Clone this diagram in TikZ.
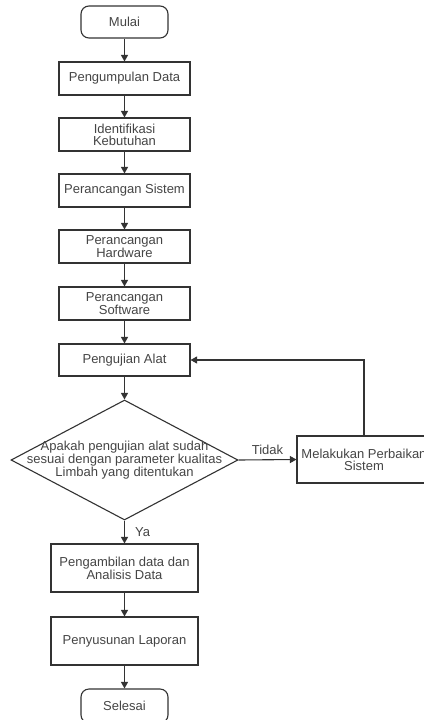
\documentclass[tikz,border=0pt]{standalone}
\usepackage{fontspec}
\setmainfont{Liberation Sans}
\usetikzlibrary{arrows.meta,shapes.geometric}
\definecolor{linec}{HTML}{333333}
\definecolor{textc}{HTML}{454545}
\tikzset{
  base/.style={draw=linec, line width=1.1pt, text=textc, inner sep=0pt, align=center,
    font=\fontsize{13}{11.8}\selectfont},
  procbox/.style={base, rectangle, minimum width=131pt, minimum height=33pt},
  widebox/.style={base, rectangle, minimum width=147pt, minimum height=48pt},
  termbox/.style={base, rectangle, rounded corners=8pt, minimum width=87pt, minimum height=32pt},
  decision/.style={base, diamond, minimum width=227pt, minimum height=120pt},
  plain/.style={text=textc, inner sep=0pt, align=center, font=\fontsize{13}{11.5}\selectfont},
  conn/.style={draw=linec, line width=1.1pt, -{Triangle[length=6.5pt,width=7pt]}}
}
\begin{document}
\begin{tikzpicture}[x=1pt,y=-1pt]
\useasboundingbox (0,0) rectangle (423,720);
\fill[white] (0,0) rectangle (423,720);
\node[termbox] (start) at (124.5,22) {Mulai};
\node[procbox] (p1) at (124.5,78.5) {Pengumpulan Data};
\node[procbox] (p2) at (124.5,134.5) {Identifikasi\\Kebutuhan};
\node[procbox] (p3) at (124.5,190.5) {Perancangan Sistem};
\node[procbox] (p4) at (124.5,246.5) {Perancangan\\Hardware};
\node[procbox] (p5) at (124.5,303.5) {Perancangan\\Software};
\node[procbox, minimum height=32pt] (p6) at (124.5,360) {Pengujian Alat};
\node[decision] (d) at (124.5,460) {};
\node[plain] (dt) at (124.5,460) {Apakah pengujian alat sudah\\sesuai dengan parameter kualitas\\Limbah yang ditentukan};
\node[base, rectangle, minimum width=134pt, minimum height=47pt] (fix) at (364,459.5) {Melakukan Perbaikan\\Sistem};
\node[widebox] (p7) at (124.5,568) {Pengambilan data dan\\Analisis Data};
\node[widebox] (p8) at (124.5,641) {Penyusunan Laporan};
\node[termbox, minimum height=34pt] (stop) at (124.5,706) {Selesai};
\draw[conn] (start) -- (p1);
\draw[conn] (p1) -- (p2);
\draw[conn] (p2) -- (p3);
\draw[conn] (p3) -- (p4);
\draw[conn] (p4) -- (p5);
\draw[conn] (p5) -- (p6);
\draw[conn] (p6) -- (d);
\draw[conn] (d.east) -- node[plain, above=5pt] (tidak) {Tidak} (fix.west);
\draw[conn] (fix.north) |- (p6.east);
\draw[conn] (d.south) -- node[plain, right=10pt] (ya) {Ya} (p7.north);
\draw[conn] (p7) -- (p8);
\draw[conn] (p8) -- (stop);
\end{tikzpicture}
\end{document}
